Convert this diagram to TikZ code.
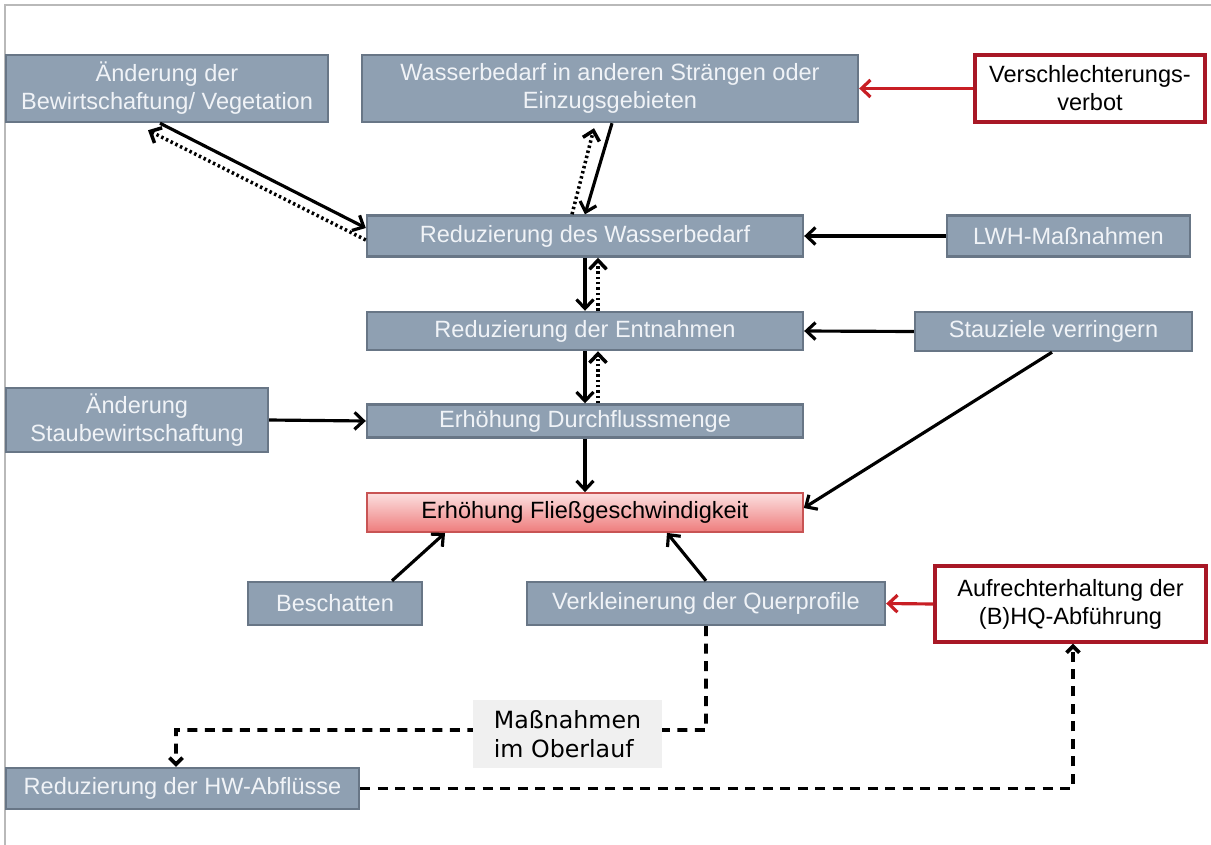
\documentclass[tikz,border=0pt]{standalone}
\usepackage{fontspec}
\setmainfont{Liberation Sans}
\newfontfamily\notefont{DejaVu Sans}
\usepackage{tikz}
\usetikzlibrary{arrows.meta,positioning}

\definecolor{boxgray}{RGB}{143,160,178}
\definecolor{boxedge}{RGB}{104,118,134}
\definecolor{boxtext}{RGB}{240,243,247}
\definecolor{darkred}{RGB}{168,24,38}
\definecolor{arrred}{RGB}{200,30,36}
\definecolor{pinktop}{RGB}{252,224,224}
\definecolor{pinkbot}{RGB}{238,124,124}
\definecolor{pinkedge}{RGB}{200,84,84}
\definecolor{notegray}{RGB}{240,240,240}

\begin{document}
\begin{tikzpicture}[
  x=0.02cm, y=-0.02cm,
  every node/.style={font=\fontsize{13.4}{16}\selectfont, align=center, inner sep=0pt},
  block/.style={rectangle, draw=boxedge, line width=1.4pt, fill=boxgray,
    text=boxtext},
  rule/.style={rectangle, draw=darkred, line width=1.8pt, fill=white,
    text=black},
  goal/.style={rectangle, draw=pinkedge, line width=1pt, shading=axis,
    top color=pinktop, bottom color=pinkbot, text=black},
  note/.style={rectangle, fill=notegray, text=black,
    font=\notefont\fontsize{13.5}{16.5}\selectfont, align=left},
  arr/.style={line width=1.8pt, -{Straight Barb[length=1.8mm,width=3.4mm]}},
  dotarr/.style={line width=2pt, dash pattern=on 1.4pt off 1.6pt,
    -{Straight Barb[length=1.8mm,width=3.4mm]}},
  redarr/.style={arr, draw=arrred},
  dasharr/.style={line width=2.1pt, dash pattern=on 0.2cm off 0.15cm,
    -{Straight Barb[length=1.3mm,width=2.6mm]}},
  frame/.style={draw=gray!55, line width=1.2pt}
]
\useasboundingbox (0,0) rectangle (1211,845);
\draw[frame] (5,845) -- (5,5) -- (1211,5);

% Top row
\node[block, minimum width=6.44cm, minimum height=1.34cm] (bewirt) at (167,88.5)
  {\"Anderung der\\Bewirtschaftung/ Vegetation};
\node[block, minimum width=9.92cm, minimum height=1.34cm] (wbedarf) at (610,88.5)
  {Wasserbedarf in anderen Str\"angen oder\\Einzugsgebieten};
\node[rule, minimum width=4.6cm, minimum height=1.34cm] (verbot) at (1090,88.5)
  {Verschlechterungs-\\verbot};

% Middle column
\node[block, minimum width=8.72cm, minimum height=0.82cm] (redbedarf) at (585,236)
  {Reduzierung des Wasserbedarf};
\node[block, minimum width=8.72cm, minimum height=0.76cm] (entnahme) at (585,331)
  {Reduzierung der Entnahmen};
\node[block, minimum width=8.72cm, minimum height=0.66cm] (durch) at (585,421)
  {Erh\"ohung Durchflussmenge};
\node[goal, minimum width=8.72cm, minimum height=0.78cm] (fliess) at (585,512.5)
  {Erh\"ohung Flie\ss geschwindigkeit};

% Side inputs
\node[block, minimum width=4.86cm, minimum height=0.82cm] (lwh) at (1068.5,236)
  {LWH-Ma\ss nahmen};
\node[block, minimum width=5.54cm, minimum height=0.78cm] (stau) at (1053.5,331.5)
  {Stauziele verringern};
\node[block, minimum width=5.24cm, minimum height=1.28cm] (staubew) at (137,420)
  {\"Anderung\\Staubewirtschaftung};

% Bottom row
\node[block, minimum width=3.48cm, minimum height=0.86cm] (besch) at (335,603.5)
  {Beschatten};
\node[block, minimum width=7.16cm, minimum height=0.86cm] (verkl) at (706,603.5)
  {Verkleinerung der Querprofile};
\node[rule, minimum width=5.42cm, minimum height=1.52cm] (aufr) at (1070.5,604)
  {Aufrechterhaltung der\\(B)HQ-Abf\"uhrung};
\node[block, minimum width=7.06cm, minimum height=0.82cm] (hw) at (182.5,788.5)
  {Reduzierung der HW-Abfl\"usse};

% Top connections
\draw[arr] ([xshift=-0.14cm]bewirt.south) -- ([yshift=0.16cm]redbedarf.west);
\draw[dotarr] ([yshift=-0.08cm]redbedarf.west) -- ([xshift=-0.38cm,yshift=-0.14cm]bewirt.south);
\draw[arr] ([xshift=0.04cm]wbedarf.south) -- (redbedarf.north);
\draw[dotarr] ([xshift=-0.26cm]redbedarf.north) -- ([xshift=-0.32cm,yshift=-0.1cm]wbedarf.south);
\draw[redarr] (verbot.west) -- (wbedarf.east);
\draw[arr] (lwh.west) -- (redbedarf.east);

% Chain
\draw[arr] (redbedarf.south) -- (entnahme.north);
\draw[dotarr] ([xshift=0.26cm]entnahme.north) -- ([xshift=0.26cm]redbedarf.south);
\draw[arr] (entnahme.south) -- (durch.north);
\draw[dotarr] ([xshift=0.26cm]durch.north) -- ([xshift=0.26cm]entnahme.south);
\draw[arr] (durch.south) -- (fliess.north);
\draw[arr] (stau.west) -- (entnahme.east);
\draw[arr] ([xshift=-0.03cm]stau.south) -- ([yshift=0.09cm]fliess.east);
\draw[arr] (staubew.east) -- (durch.west);

% Bottom connections
\draw[arr] ([xshift=1.14cm]besch.north) -- ([xshift=-2.8cm]fliess.south);
\draw[arr] (verkl.north) -- ([xshift=1.64cm]fliess.south);
\draw[redarr] (aufr.west) -- (verkl.east);

\coordinate (kink) at (176,730);
\draw[dasharr] (verkl.south) |- (kink) -- ([xshift=-0.13cm]hw.north);
\draw[dasharr] (hw.east) -| ([xshift=0.05cm]aufr.south);

\node[note, minimum width=3.78cm, minimum height=1.36cm] (ober) at (567.5,734)
  {Ma\ss nahmen\\im Oberlauf};

\end{tikzpicture}
\end{document}
